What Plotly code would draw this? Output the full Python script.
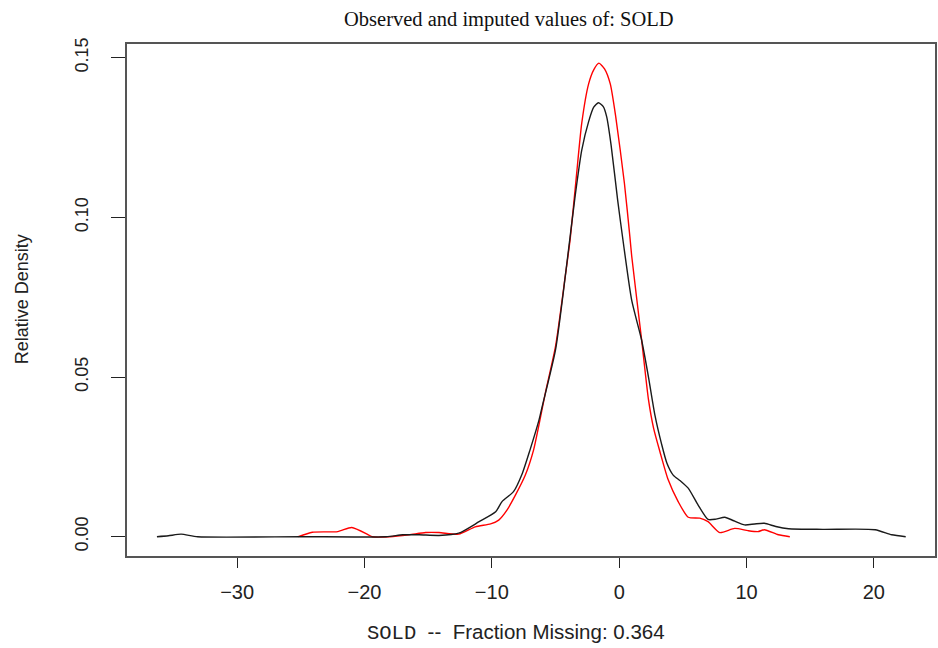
import plotly.graph_objects as go

# Observed values density (black)
obs_x = [-36.3, -35.4, -34.4, -33.1, -25.0, -18.3, -17.0, -15.7, -14.15, -12.6, -11.0, -9.7, -9.2,
         -8.3, -7.6, -7.0, -6.3, -6.05, -5.0, -4.2, -3.45, -2.94, -2.4, -2.0, -1.63, -1.25, -0.98,
         -0.63, -0.12, 0.33, 0.98, 1.76, 2.3, 2.81, 3.33, 3.75, 4.24, 4.8, 5.42, 6.2, 6.98, 7.6,
         8.29, 9.0, 9.85, 10.64, 11.4, 12.3, 13.3, 16.0, 20.1, 21.4, 22.5]
obs_y = [0.0, 0.0003, 0.0008, 0.0, 0.0, 0.0, 0.0006, 0.0006, 0.0004, 0.0011, 0.0047, 0.0078, 0.011,
         0.0141, 0.0199, 0.0272, 0.0365, 0.0407, 0.0585, 0.0826, 0.107, 0.1211, 0.130, 0.1345, 0.1359,
         0.1347, 0.1315, 0.1225, 0.1054, 0.0919, 0.0741, 0.0616, 0.050, 0.038, 0.029, 0.023, 0.0193,
         0.0175, 0.0152, 0.0099, 0.0054, 0.0055, 0.0061, 0.005, 0.0037, 0.004, 0.0042, 0.0032, 0.0025,
         0.0023, 0.0022, 0.0006, 0.0]

# Imputed values density (red)
imp_x = [-25.2, -24.1, -22.1, -21.0, -19.7, -19.4, -18.0, -16.5, -15.2, -14.15, -12.6, -11.3, -10.1,
         -9.46, -8.8, -8.15, -7.37, -6.72, -6.3, -5.8, -5.0, -4.2, -3.84, -3.37, -2.94, -2.4, -2.0,
         -1.59, -1.15, -0.7, -0.27, 0.41, 0.85, 0.98, 1.76, 2.3, 2.7, 3.2, 3.85, 4.63, 5.42, 6.33,
         6.98, 7.9, 9.07, 10.11, 10.9, 11.4, 12.5, 13.4]
imp_y = [0.0, 0.0014, 0.0016, 0.0029, 0.0006, 0.0, 0.0, 0.0006, 0.0013, 0.0013, 0.0008, 0.0031, 0.004,
         0.0052, 0.0084, 0.013, 0.0193, 0.0272, 0.035, 0.045, 0.0596, 0.0826, 0.0935, 0.1125, 0.1295,
         0.1418, 0.1462, 0.1483, 0.1465, 0.1418, 0.1315, 0.1107, 0.0935, 0.088, 0.0617, 0.0429, 0.034,
         0.0266, 0.0178, 0.011, 0.0061, 0.0058, 0.0047, 0.0013, 0.0026, 0.0019, 0.0016, 0.0022, 0.0006,
         0.0]

x_ticks = [-30, -20, -10, 0, 10, 20]
y_ticks = [0.00, 0.05, 0.10, 0.15]
y_tick_labels = ["0.00", "0.05", "0.10", "0.15"]

title_text = "Observed and imputed values of: SOLD"
x_title = "<span style='font-family:Liberation Mono, Courier New, monospace'>SOLD</span>  --  Fraction Missing: 0.364"
y_title = "Relative Density"

fig = go.Figure()
fig.add_trace(go.Scatter(x=imp_x, y=imp_y, mode="lines",
                         line=dict(color="#ff0000", width=1.4, shape="spline", smoothing=0.6),
                         hoverinfo="skip", showlegend=False))
fig.add_trace(go.Scatter(x=obs_x, y=obs_y, mode="lines",
                         line=dict(color="#1a1a1a", width=1.4, shape="spline", smoothing=0.6),
                         hoverinfo="skip", showlegend=False))

sans = "Liberation Sans, Arial, sans-serif"
fig.update_layout(
    width=938, height=648,
    margin=dict(l=127, r=1, t=44, b=92, pad=0),
    paper_bgcolor="white", plot_bgcolor="white",
    font=dict(family=sans, size=18, color="#222"),
    showlegend=False,
    xaxis=dict(range=[-38.65, 24.8], tickvals=x_ticks, ticks="outside", ticklen=10,
               tickwidth=1.3, tickcolor="#222", showgrid=False, zeroline=False,
               showline=True, linecolor="#555", linewidth=1.6, mirror=True,
               tickfont=dict(family=sans, size=20, color="#222"), ticklabelstandoff=7),
    yaxis=dict(range=[-0.00604, 0.1543], tickvals=y_ticks, ticktext=y_tick_labels,
               ticks="outside", ticklen=14, tickwidth=1.3, tickcolor="#222",
               showgrid=False, zeroline=False, tickangle=-90,
               showline=True, linecolor="#555", linewidth=1.6, mirror=True,
               tickfont=dict(family=sans, size=18, color="#222"), ticklabelstandoff=16),
    annotations=[
        dict(text=title_text, xref="paper", yref="paper", x=0.4728, y=1.047,
             xanchor="center", yanchor="middle", showarrow=False,
             font=dict(family="Liberation Serif, Times New Roman, serif", size=20.5, color="#111")),
        dict(text=x_title, xref="paper", yref="paper", x=0.481, y=-0.150,
             xanchor="center", yanchor="middle", showarrow=False,
             font=dict(family=sans, size=20.5, color="#222")),
        dict(text=y_title, xref="paper", yref="paper", x=-0.1296, y=0.502,
             xanchor="center", yanchor="middle", showarrow=False, textangle=-90,
             font=dict(family=sans, size=18, color="#222")),
    ],
)

fig.write_html("out.html", config={"displayModeBar": False})

# remove the browser's default page margin so the 938x648 figure fills the window exactly
with open("out.html", "r", encoding="utf-8") as f:
    html = f.read()
html = html.replace("<head>", "<head><style>html,body{margin:0;padding:0;overflow:hidden;}</style>", 1)
with open("out.html", "w", encoding="utf-8") as f:
    f.write(html)
